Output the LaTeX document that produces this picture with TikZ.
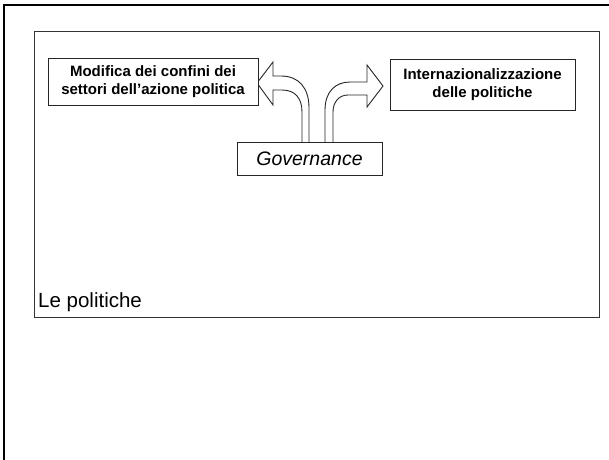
\documentclass[tikz,border=0pt]{standalone}
\usepackage{fontspec}
\setmainfont{Liberation Sans}
\begin{document}
\begin{tikzpicture}[x=1pt,y=-1pt,
  box/.style={draw=black!85,line width=0.9pt,fill=white,inner sep=0pt,align=center},
  boldtext/.style={font=\bfseries\fontsize{15}{18}\selectfont},
  arrowshape/.style={draw=black!85,line width=0.9pt,fill=white,line join=miter}]
\useasboundingbox (0,0) rectangle (609,459);
% outer slide frame
\draw[line width=2.6pt] (4,470) -- (4,5) -- (620,5);
% inner frame
\draw[draw=black!80,line width=1pt] (34,31) rectangle (599,317);
\node[anchor=base west,font=\fontsize{20.5}{24}\selectfont,inner sep=0pt] (title) at (38,307) {Le politiche};
% arrows
\draw[arrowshape] (309,142) -- (309,108) .. controls (309,88) and (299,76) .. (281,76) -- (273,76) -- (273,62) -- (257,83) -- (273,105) -- (273,90) -- (282,90) .. controls (295,90) and (302,98) .. (302,112) -- (302,142);
\draw[arrowshape] (325,142) -- (325,110) .. controls (325,92) and (335,82) .. (350,82) -- (367,82) -- (367,65) -- (383,86) -- (367,107) -- (367,95) -- (348,95) .. controls (339,95) and (333,102) .. (333,112) -- (333,142);
% boxes
\node[box,boldtext,minimum width=210pt,minimum height=47pt] (mod) at (153,81.5) {Modifica dei confini dei\\settori dell’azione politica};
\node[box,boldtext,minimum width=185pt,minimum height=51pt] (int) at (482.5,85) {Internazionalizzazione\\delle politiche};
\node[box,font=\itshape\fontsize{19.5}{23}\selectfont,minimum width=145pt,minimum height=33pt] (gov) at (309.5,158.5) {Governance};
\end{tikzpicture}
\end{document}
